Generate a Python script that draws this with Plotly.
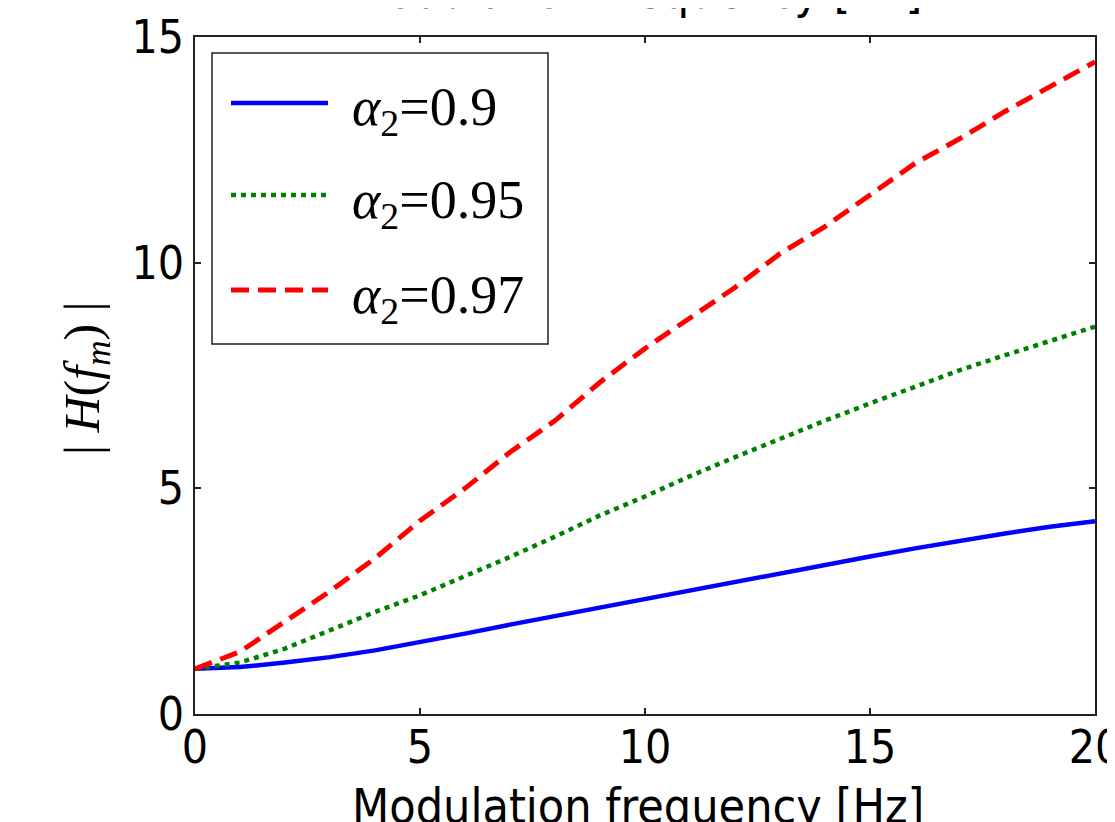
import plotly.graph_objects as go

# ---- data ----
freq = [0, 1, 2, 3, 4, 5, 6, 7, 8, 9, 10, 11, 12, 13, 14, 15, 16, 17, 18, 19, 20]
h_090 = [1.0, 1.04, 1.14, 1.26, 1.41, 1.59, 1.78, 1.98, 2.17, 2.37, 2.55, 2.73, 2.93, 3.12, 3.3, 3.49, 3.67, 3.84, 4.0, 4.15, 4.27]
h_095 = [1.0, 1.14, 1.45, 1.85, 2.26, 2.63, 3.05, 3.48, 3.93, 4.4, 4.82, 5.27, 5.69, 6.1, 6.5, 6.88, 7.25, 7.62, 7.95, 8.27, 8.58]
h_097 = [1.0, 1.38, 2.05, 2.72, 3.45, 4.28, 5.0, 5.8, 6.5, 7.35, 8.1, 8.78, 9.45, 10.2, 10.8, 11.5, 12.2, 12.75, 13.35, 13.9, 14.45]

series_names = ["α<sub>2</sub>=0.9", "α<sub>2</sub>=0.95", "α<sub>2</sub>=0.97"]
series_values = [h_090, h_095, h_097]
series_colors = ["#0000ff", "#008000", "#ff0000"]
series_dash = ["solid", "5px,5px", "18px,9px"]
series_width = [4.5, 4.5, 5]

x_ticks = [0, 5, 10, 15, 20]
y_ticks = [0, 5, 10, 15]

# page body has an 8px margin; positions below are in screenshot pixels
OFF = 8
W, H = 1115 - OFF, 822 - OFF
ML, MT = 195 - OFF, 37 - OFF
PW, PH = 900, 677
MR, MB = W - ML - PW, H - MT - PH


def px_x(px):
    return (px - OFF - ML) / PW


def px_y(py):
    return 1 - (py - OFF - MT) / PH


TICK_FONT = "DejaVu Sans Condensed, Liberation Sans Narrow, Arial Narrow, sans-serif"
SERIF = "Liberation Serif, Times New Roman, serif"

fig = go.Figure()
for name, vals, col, dash, w in zip(series_names, series_values, series_colors, series_dash, series_width):
    fig.add_trace(go.Scatter(x=freq, y=vals, mode="lines", name=name,
                             line=dict(color=col, dash=dash, width=w),
                             showlegend=False))

# custom MATLAB-style legend
shapes = [dict(type="rect", xref="paper", yref="paper",
               x0=px_x(212), x1=px_x(548), y0=px_y(344), y1=px_y(53),
               line=dict(color="#222", width=1.5), fillcolor="white", layer="above")]
annotations = []
legend_rows = [103, 195, 290]
for name, col, dash, w, ry in zip(series_names, series_colors, series_dash, series_width, legend_rows):
    shapes.append(dict(type="line", xref="paper", yref="paper",
                       x0=px_x(231), x1=px_x(328), y0=px_y(ry), y1=px_y(ry),
                       line=dict(color=col, dash=dash, width=w), layer="above"))
    annotations.append(dict(xref="paper", yref="paper", x=px_x(350), y=px_y(ry + 8),
                            xanchor="left", yanchor="middle", showarrow=False,
                            text=name.replace("α", "<i>α</i>"),
                            font=dict(family=SERIF, size=54, color="black")))

# y-axis title
annotations.append(dict(xref="paper", yref="paper", x=px_x(86), y=px_y(378),
                        xanchor="center", yanchor="middle", showarrow=False, textangle=-90,
                        text="| <i>H</i>(<i>f</i><sub><i>m</i></sub>) |",
                        font=dict(family=SERIF, size=50, color="black")))
# x-axis title (cut off at bottom)
annotations.append(dict(xref="paper", yref="paper", x=px_x(638), y=px_y(776),
                        xanchor="center", yanchor="top", showarrow=False,
                        text="Modulation frequency [Hz]",
                        font=dict(family=TICK_FONT, size=48, color="black")))
# title of the panel above (cut off at top)
annotations.append(dict(xref="paper", yref="paper", x=px_x(636), y=px_y(21),
                        xanchor="center", yanchor="bottom", showarrow=False,
                        text="Modulation frequency [Hz]",
                        font=dict(family=TICK_FONT, size=48, color="black")))

axis_common = dict(showgrid=False, zeroline=False, showline=True, linecolor="#222", linewidth=1.5,
                   mirror="ticks", ticks="inside", ticklen=6, tickcolor="#222", tickwidth=1.5,
                   automargin=False, ticklabeloverflow="allow",
                   tickfont=dict(family=TICK_FONT, size=46, color="black"))

fig.update_layout(
    width=W, height=H,
    margin=dict(l=ML, r=MR, t=MT, b=MB),
    paper_bgcolor="white", plot_bgcolor="white",
    xaxis=dict(range=[0, 20], tickvals=x_ticks, ticklabelstandoff=-8, **axis_common),
    yaxis=dict(range=[0, 15], tickvals=y_ticks, **axis_common),
    shapes=shapes, annotations=annotations,
)

fig.write_html("out.html")
